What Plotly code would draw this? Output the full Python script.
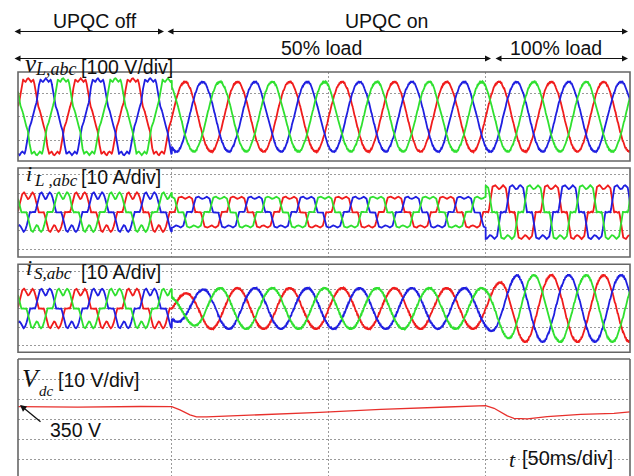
import numpy as np
import plotly.graph_objects as go

# ---------------- data ----------------
T_RANGE = [-49.0, 146.0]          # visible time window, ms
T_SWITCH_ON = 0.0                 # UPQC switched on
T_LOAD_STEP = 100.0               # 50% -> 100% load
FREQ_HZ = 60.0
PHASE_PEAK_MS = 4.2               # phase a (red) positive peak time (+k periods)
PHASE_COLORS = ["#f01c1c", "#1f1fe0", "#2fe02f"]   # a, b, c
PHASE_ANGLES_DEG = [0.0, -120.0, 120.0]

# load voltage v_L,abc  (V peak)
VL_PEAK = [168.0, 150.0]                  # UPQC off, UPQC on
VL_HARM_ORDERS = [5, 9]
VL_HARM_COEF_OFF = [-0.08, 0.065]
VL_RIPPLE_V = 3.0

# load current i_L,abc (fundamental A) and harmonic content
IL_ORDERS = [1, 5, 7, 11, 13]
IL_COEF = [1.0, -0.17, -0.114, 0.05, 0.035]
IL_FUND = [9.6, 8.4, 14.6]                # UPQC off, 50% load, 100% load
IL_RIPPLE6 = [0.22, 0.09, 0.09]           # 6-pulse ripple depth on the blocks

# source current i_S,abc (A peak)
IS_PEAK = [10.9, 17.8]                    # 50% load, 100% load
IS_START_FRACTION = 0.6
IS_RAMP_MS = [12.0, 10.0]
IS_RIPPLE_A = 0.45
RIPPLE_KHZ = 2.4

# dc-link voltage V_dc (knots)
VDC_T = [-49, -30, -10, 0, 2.6, 5.8, 7.9, 11.1, 47.2, 66.6, 87.8, 98.4, 100,
         102.7, 106.9, 109, 113.3, 119.6, 130.3, 140.9, 146]
VDC_V = [350.0, 349.8, 350.1, 350.0, 348.4, 345.9, 344.9, 344.9, 347.2, 348.7,
         349.85, 350.35, 350.5, 349.2, 345.4, 344.2, 343.9, 345.0, 346.2, 346.7, 347.4]

# axis ranges / grids
Y1_RANGE = [-190.0, 192.0]
Y2_RANGE = [-24.0, 23.6]
Y3_RANGE = [-23.4, 23.6]
Y4_RANGE = [315.35, 373.85]
X_GRID = [0, 50, 100]

W, H = 634, 476


def px(x):
    return x / W


def py(y):
    return 1 - y / H


t = np.arange(T_RANGE[0], T_RANGE[1] + 0.0125, 0.025)
w = 2 * np.pi * FREQ_HZ / 1000.0


def harm(theta, orders, coefs):
    return sum(c * np.sin(n * theta) for n, c in zip(orders, coefs))


fig = go.Figure()
X_DOMAIN = [px(18), px(630)]
domains = [
    [py(161), py(72)],
    [py(257), py(168)],
    [py(352.3), py(264.3)],
    [0.0, py(359)],
]

for k in range(3):
    theta = w * (t - PHASE_PEAK_MS) + np.pi / 2 + np.deg2rad(PHASE_ANGLES_DEG[k])
    rip = np.sin(2 * np.pi * RIPPLE_KHZ * t + 2.1 * k)
    # load voltage
    v_off = VL_PEAK[0] * (np.sin(theta) + harm(theta, VL_HARM_ORDERS, VL_HARM_COEF_OFF))
    v_on = VL_PEAK[1] * np.sin(theta) + VL_RIPPLE_V * rip
    v = np.where(t < T_SWITCH_ON, v_off, v_on)
    # load current (quasi-square blocks with 6-pulse ripple)
    q = harm(theta, IL_ORDERS, IL_COEF)
    il_off = IL_FUND[0] * q * (1 + IL_RIPPLE6[0] * np.cos(6 * theta))
    il_50 = IL_FUND[1] * q * (1 + IL_RIPPLE6[1] * np.cos(6 * theta))
    il_100 = IL_FUND[2] * q * (1 + IL_RIPPLE6[2] * np.cos(6 * theta))
    il = np.where(t < T_SWITCH_ON, il_off, np.where(t < T_LOAD_STEP, il_50, il_100))
    # source current
    a1 = IS_PEAK[0] * (IS_START_FRACTION + (1 - IS_START_FRACTION) *
                       np.clip((t - T_SWITCH_ON) / IS_RAMP_MS[0], 0, 1))
    a2 = IS_PEAK[0] + (IS_PEAK[1] - IS_PEAK[0]) * np.clip((t - T_LOAD_STEP) / IS_RAMP_MS[1], 0, 1)
    amp = np.where(t < T_LOAD_STEP, a1, a2)
    is_on = amp * np.sin(theta) + IS_RIPPLE_A * rip
    isrc = np.where(t < T_SWITCH_ON, il_off, is_on)

    for idx, y in enumerate([v, il, isrc]):
        fig.add_trace(go.Scatter(
            x=t, y=y, mode="lines", showlegend=False, hoverinfo="skip",
            line=dict(color=PHASE_COLORS[k], width=1.8),
            xaxis="x" if idx == 0 else f"x{idx + 1}",
            yaxis="y" if idx == 0 else f"y{idx + 1}"))

fig.add_trace(go.Scatter(x=VDC_T, y=VDC_V, mode="lines", showlegend=False,
                         hoverinfo="skip", line=dict(color="#e8302c", width=1.3),
                         xaxis="x4", yaxis="y4"))

GRID = dict(showgrid=True, gridcolor="#9a9a9a", gridwidth=1, griddash="2px,2px",
            zeroline=False, showticklabels=False, ticks="", showline=False)

layout = dict(width=W, height=H, margin=dict(l=0, r=0, t=0, b=0),
              paper_bgcolor="white", plot_bgcolor="white",
              font=dict(family="Liberation Sans, Arial", color="#111"))
yr = [Y1_RANGE, Y2_RANGE, Y3_RANGE, Y4_RANGE]
for i in range(4):
    s = "" if i == 0 else str(i + 1)
    layout["xaxis" + s] = dict(domain=X_DOMAIN, range=T_RANGE, tickmode="array",
                               tickvals=X_GRID, anchor="y" + s, **GRID)
    ydict = dict(domain=domains[i], range=yr[i], anchor="x" + s, **GRID)
    if i == 3:
        ydict.update(tick0=353.7, dtick=10)
    elif i == 0:
        ydict.update(tick0=0, dtick=100)
    else:
        ydict.update(tick0=0, dtick=10)
    layout["yaxis" + s] = ydict
fig.update_layout(**layout)

# panel frames
BORDER = dict(color="#666666", width=1.6)
shapes = []
for (y0, y1) in [(72, 161), (168, 257), (264.3, 352.3)]:
    shapes.append(dict(type="rect", xref="paper", yref="paper", x0=px(18), x1=px(630),
                       y0=py(y1), y1=py(y0), line=BORDER))
shapes.append(dict(type="line", xref="paper", yref="paper", x0=px(18), x1=px(630),
                   y0=py(359), y1=py(359), line=BORDER))
shapes.append(dict(type="line", xref="paper", yref="paper", x0=px(18), x1=px(18),
                   y0=py(359), y1=py(490), line=BORDER))
shapes.append(dict(type="line", xref="paper", yref="paper", x0=px(630), x1=px(630),
                   y0=py(359), y1=py(490), line=BORDER))
fig.update_layout(shapes=shapes)

ann = []
SANS = "Liberation Sans, Arial"
SERIF = "Liberation Serif, Times New Roman"


def text(x, yc, s, size, family=SANS, xanchor="left"):
    ann.append(dict(x=px(x), y=py(yc), xref="paper", yref="paper", text=s,
                    showarrow=False, xanchor=xanchor, yanchor="middle",
                    font=dict(size=size, family=family, color="#111")))


def dbl_arrow(x0, x1, y):
    ann.append(dict(x=px(x1), y=py(y), xref="paper", yref="paper", text="",
                    showarrow=True, axref="pixel", ayref="pixel", ax=x0 - x1, ay=0,
                    arrowside="end+start", arrowhead=2, startarrowhead=2,
                    arrowsize=1, startarrowsize=1, arrowwidth=1.2, arrowcolor="#111"))


# top annotations
text(95, 20.6, "UPQC off", 19.5, xanchor="center")
text(386, 20.6, "UPQC on", 19.5, xanchor="center")
text(321, 47.6, "50% load", 19.5, xanchor="center")
text(556, 47.6, "100% load", 19.5, xanchor="center")
dbl_arrow(13, 164, 31.5)
dbl_arrow(166, 628, 31.5)
dbl_arrow(13, 491, 58.5)
dbl_arrow(494, 628, 58.5)

# panel labels
text(23, 63.9, "<i>v</i>", 25, SERIF)
text(33, 69.3, "<i>L,abc</i>", 18, SERIF)
text(79, 67.3, "[100 V/div]", 19.5)

text(24, 173, "<i>i</i>", 22, SERIF)
text(32, 180.3, "<i>L ,abc</i>", 17, SERIF)
text(79, 177.3, "[10 A/div]", 19.5)

text(24, 267.6, "<i>i</i>", 22, SERIF)
text(32, 273.3, "<i>S,abc</i>", 17, SERIF)
text(79, 272.3, "[10 A/div]", 19.5)

text(20, 378.2, "<i>V</i>", 26, SERIF)
text(37, 391, "<i>dc</i>", 15, SERIF)
text(56, 380.3, "[10 V/div]", 19.5)

text(48, 429.8, "350 V", 19.5)
ann.append(dict(x=px(20), y=py(405), xref="paper", yref="paper", text="",
                showarrow=True, axref="pixel", ayref="pixel", ax=22, ay=18,
                arrowhead=2, arrowsize=1, arrowwidth=1.3, arrowcolor="#111"))

text(507, 459.6, "<i>t</i>", 22, SERIF)
text(520, 458.1, "[50ms/div]", 20)

fig.update_layout(annotations=ann)
fig.write_html("out.html", config={"displayModeBar": False},
               post_script="document.body.style.margin='0px';"
                           "document.body.style.overflow='hidden';")
